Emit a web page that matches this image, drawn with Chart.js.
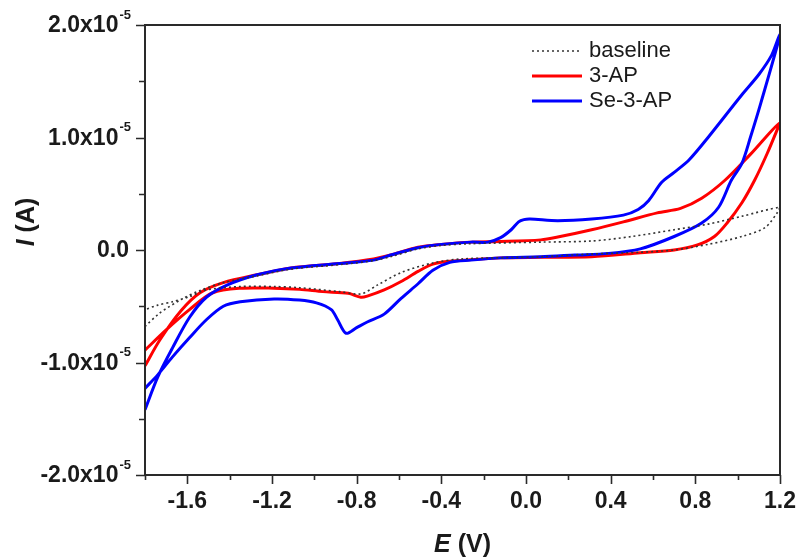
<!DOCTYPE html>
<html>
<head>
<meta charset="utf-8">
<script src="https://cdn.jsdelivr.net/npm/chart.js@4.4.1/dist/chart.umd.min.js"></script>
<style>
html,body{margin:0;padding:0;background:#fff;}
#wrap{width:801px;height:560px;}
</style>
</head>
<body>
<div id="wrap"><canvas id="c" width="801" height="560"></canvas></div>
<script>
// ---- data (current in units of 1e-5 A, potential in V) ----
const seriesNames = ["baseline", "3-AP", "Se-3-AP"];

const baselineE = [-1.80,-1.73,-1.62,-1.54,-1.43,-1.27,-1.11,-0.88,-0.72,-0.63,-0.51,-0.40,-0.28,0.07,0.31,0.50,0.70,0.86,1.02,1.20,
  1.19,1.13,1.02,0.86,0.70,0.54,0.31,0.07,-0.31,-0.44,-0.59,-0.70,-0.78,-0.88,-1.07,-1.19,-1.35,-1.51,-1.59,-1.67,-1.74,-1.80];
const baselineI = [-0.68,-0.56,-0.43,-0.36,-0.29,-0.23,-0.17,-0.13,-0.095,-0.055,0.01,0.04,0.055,0.07,0.08,0.12,0.18,0.23,0.30,0.38,
  0.34,0.20,0.12,0.05,0.0,-0.02,-0.035,-0.06,-0.08,-0.115,-0.20,-0.31,-0.39,-0.37,-0.335,-0.325,-0.325,-0.355,-0.415,-0.46,-0.49,-0.53];

const ap3E = [-1.80,-1.73,-1.63,-1.54,-1.43,-1.27,-1.11,-0.88,-0.72,-0.63,-0.51,-0.40,-0.26,-0.12,0.07,0.15,0.31,0.46,0.62,0.73,0.83,0.94,1.06,1.20,
  1.14,1.08,1.02,0.95,0.89,0.81,0.70,0.54,0.31,0.07,-0.12,-0.36,-0.44,-0.51,-0.59,-0.67,-0.75,-0.78,-0.84,-0.96,-1.07,-1.19,-1.35,-1.48,-1.59,-1.70,-1.80];
const ap3I = [-1.03,-0.80,-0.54,-0.38,-0.29,-0.22,-0.16,-0.12,-0.08,-0.04,0.025,0.05,0.07,0.075,0.09,0.115,0.18,0.25,0.33,0.37,0.46,0.62,0.85,1.13,
  0.86,0.62,0.42,0.24,0.12,0.045,0.0,-0.025,-0.06,-0.065,-0.07,-0.10,-0.125,-0.19,-0.28,-0.355,-0.41,-0.42,-0.385,-0.37,-0.35,-0.34,-0.34,-0.38,-0.53,-0.71,-0.89];

const se3apE = [-1.80,-1.74,-1.67,-1.59,-1.51,-1.41,-1.27,-1.11,-0.88,-0.72,-0.63,-0.51,-0.40,-0.26,-0.18,-0.12,-0.07,-0.035,-0.01,0.02,0.15,0.31,0.46,0.53,0.58,0.64,0.70,0.77,0.86,1.02,1.10,1.16,1.20,
  1.11,1.06,1.02,0.97,0.91,0.83,0.70,0.54,0.39,0.23,0.07,-0.12,-0.26,-0.36,-0.44,-0.51,-0.59,-0.67,-0.75,-0.80,-0.85,-0.89,-0.92,-0.99,-1.07,-1.19,-1.35,-1.43,-1.51,-1.59,-1.67,-1.74,-1.80];
const se3apI = [-1.42,-1.13,-0.87,-0.60,-0.42,-0.31,-0.22,-0.16,-0.12,-0.09,-0.04,0.02,0.05,0.07,0.07,0.11,0.18,0.25,0.27,0.275,0.26,0.275,0.31,0.36,0.44,0.60,0.69,0.80,1.00,1.38,1.56,1.73,1.91,
  1.31,1.00,0.77,0.62,0.38,0.24,0.12,0.01,-0.03,-0.045,-0.06,-0.07,-0.09,-0.11,-0.18,-0.30,-0.43,-0.57,-0.64,-0.69,-0.74,-0.62,-0.53,-0.47,-0.445,-0.435,-0.46,-0.50,-0.62,-0.78,-0.95,-1.11,-1.23];

const xTickValues = [-1.6,-1.2,-0.8,-0.4,0.0,0.4,0.8,1.2];
const xTickLabels = ["-1.6","-1.2","-0.8","-0.4","0.0","0.4","0.8","1.2"];
const xMinorValues = [-1.8,-1.4,-1.0,-0.6,-0.2,0.2,0.6,1.0];
const yTickValues = [-2,-1,0,1,2];
const yTickMantissa = ["-2.0","-1.0","0.0","1.0","2.0"];
const yTickExponent = "-5";
const yMinorValues = [-1.5,-0.5,0.5,1.5];

const toPts = (E, I) => E.map((e, i) => ({x: e, y: I[i]}));

const FONT = '"Liberation Sans", Arial, sans-serif';
const INK = '#1a1a1a';

const decor = {
  id: 'decor',
  afterDraw(chart) {
    const {ctx, chartArea: a, scales: {x, y}} = chart;
    ctx.save();
    ctx.strokeStyle = '#2a2a2a';
    ctx.lineWidth = 2;
    ctx.strokeRect(a.left, a.top, a.right - a.left, a.bottom - a.top);
    ctx.lineWidth = 1.6;
    ctx.beginPath();
    xTickValues.forEach(v => { const p = Math.round(x.getPixelForValue(v)) + 0.5; ctx.moveTo(p, a.bottom); ctx.lineTo(p, a.bottom + 9); });
    xMinorValues.forEach(v => { const p = Math.round(x.getPixelForValue(v)) + 0.5; ctx.moveTo(p, a.bottom); ctx.lineTo(p, a.bottom + 5); });
    yTickValues.forEach(v => { const p = Math.round(y.getPixelForValue(v)) + 0.5; ctx.moveTo(a.left, p); ctx.lineTo(a.left - 9, p); });
    yMinorValues.forEach(v => { const p = Math.round(y.getPixelForValue(v)) + 0.5; ctx.moveTo(a.left, p); ctx.lineTo(a.left - 6, p); });
    ctx.stroke();

    // y tick labels with superscript exponent
    ctx.fillStyle = INK;
    ctx.textBaseline = 'middle';
    yTickValues.forEach((v, i) => {
      const py = y.getPixelForValue(v) + 1;
      const right = 131;
      if (v === 0) {
        ctx.font = 'bold 23px ' + FONT;
        ctx.textAlign = 'right';
        ctx.fillText(yTickMantissa[i], right - 2, py);
        return;
      }
      ctx.font = 'bold 13px ' + FONT;
      ctx.textAlign = 'right';
      const supW = ctx.measureText(yTickExponent).width;
      ctx.fillText(yTickExponent, right, py - 11);
      ctx.font = 'bold 23px ' + FONT;
      ctx.fillText(yTickMantissa[i] + 'x10', right - supW - 1, py);
    });

    // axis titles
    const drawTitle = (cx, cy, rot, ital, rest) => {
      ctx.save();
      ctx.translate(cx, cy);
      ctx.rotate(rot);
      ctx.textAlign = 'left';
      ctx.textBaseline = 'middle';
      ctx.font = 'italic bold 25px ' + FONT;
      const w1 = ctx.measureText(ital).width;
      ctx.font = 'bold 25px ' + FONT;
      const w2 = ctx.measureText(rest).width;
      const start = -(w1 + w2) / 2;
      ctx.font = 'italic bold 25px ' + FONT;
      ctx.fillText(ital, start, 0);
      ctx.font = 'bold 25px ' + FONT;
      ctx.fillText(rest, start + w1, 0);
      ctx.restore();
    };
    drawTitle((a.left + a.right) / 2, 545, 0, 'E', ' (V)');
    drawTitle(27, 222, -Math.PI / 2, 'I', ' (A)');

    // legend
    ctx.font = '22px ' + FONT;
    ctx.textAlign = 'left';
    ctx.textBaseline = 'middle';
    chart.data.datasets.forEach((ds, i) => {
      const ly = 51 + i * 25;
      ctx.save();
      ctx.strokeStyle = ds.borderColor;
      ctx.lineWidth = ds.borderWidth;
      ctx.setLineDash(ds.borderDash || []);
      ctx.beginPath();
      ctx.moveTo(532, ly);
      ctx.lineTo(582, ly);
      ctx.stroke();
      ctx.restore();
      ctx.fillStyle = INK;
      ctx.fillText(ds.label, 589, ly);
    });
    ctx.restore();
  }
};

new Chart(document.getElementById('c'), {
  type: 'scatter',
  data: {
    datasets: [
      {label: seriesNames[0], data: toPts(baselineE, baselineI), showLine: true, borderColor: '#333333', borderWidth: 1.6, borderDash: [2, 3], pointRadius: 0, tension: 0.3, order: 0},
      {label: seriesNames[1], data: toPts(ap3E, ap3I), showLine: true, borderColor: '#ff0000', borderWidth: 3, pointRadius: 0, tension: 0.3, order: 2},
      {label: seriesNames[2], data: toPts(se3apE, se3apI), showLine: true, borderColor: '#0000ff', borderWidth: 3, pointRadius: 0, tension: 0.3, order: 1}
    ]
  },
  options: {
    responsive: false,
    animation: false,
    layout: {padding: {top: 25, right: 21, left: 0, bottom: 0}},
    plugins: {legend: {display: false}, tooltip: {enabled: false}},
    scales: {
      x: {
        type: 'linear', min: -1.8, max: 1.2,
        afterBuildTicks: s => { s.ticks = xTickValues.map(v => ({value: v})); },
        afterFit: s => { s.height = 85; s.paddingLeft = 0; s.paddingRight = 0; },
        grid: {display: false, drawTicks: false},
        border: {display: false},
        ticks: {
          color: INK, padding: 13, maxRotation: 0, autoSkip: false,
          font: {family: FONT, size: 23, weight: 'bold'},
          callback: (v, i) => xTickLabels[i]
        }
      },
      y: {
        type: 'linear', min: -2, max: 2,
        afterFit: s => { s.width = 145; s.paddingTop = 0; s.paddingBottom = 0; },
        grid: {display: false, drawTicks: false},
        border: {display: false},
        ticks: {display: false}
      }
    }
  },
  plugins: [decor]
});
</script>
</body>
</html>
